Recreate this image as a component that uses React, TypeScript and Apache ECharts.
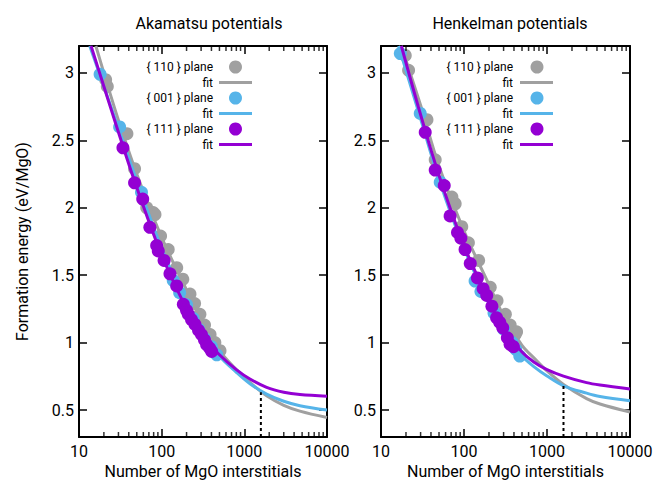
import React, { useEffect, useRef } from 'react';
import * as echarts from 'echarts';

// ---------- text ----------
const panelTitles = ['Akamatsu potentials', 'Henkelman potentials'];
const planeNames = ['{ 110 } plane', '{ 001 } plane', '{ 111 } plane'];
const fitLabel = 'fit';
const xAxisName = 'Number of MgO interstitials';
const yAxisName = 'Formation energy (eV/MgO)';

// ---------- colours ----------
const planeColors = ['#a0a0a0', '#56b4e9', '#9400d3'];

// ---------- axes ----------
const xMin = 10;
const xMax = 10000;
const yMin = 0.3;
const yMax = 3.2;
const yTickValues = [0.5, 1, 1.5, 2, 2.5, 3];
const xMinorTickValues = [20, 30, 40, 50, 60, 70, 80, 90, 200, 300, 400, 500, 600, 700, 800, 900, 2000, 3000, 4000, 5000, 6000, 7000, 8000, 9000];

// ---------- Akamatsu data ----------
const akaN110 = [21, 22, 38, 47, 66, 79, 83, 97, 120, 152, 180, 220, 250, 290, 330, 385, 440, 508];
const akaE110 = [2.95, 2.9, 2.55, 2.29, 2.0, 1.965, 1.95, 1.79, 1.69, 1.556, 1.47, 1.36, 1.29, 1.21, 1.13, 1.06, 1.0, 0.94];
const akaN001 = [18, 31, 57, 138, 165, 200, 240, 280, 330, 400, 464];
const akaE001 = [2.99, 2.6, 2.115, 1.46, 1.37, 1.28, 1.18, 1.1, 1.03, 0.97, 0.91];
const akaN111 = [34, 47, 59, 72, 87, 91, 107, 126, 152, 183, 200, 210, 230, 253, 280, 303, 330, 350, 380, 403];
const akaE111 = [2.445, 2.185, 2.065, 1.855, 1.72, 1.68, 1.61, 1.51, 1.42, 1.284, 1.24, 1.21, 1.17, 1.135, 1.09, 1.06, 1.02, 0.985, 0.96, 0.935];

const akaFitN110 = [16, 20, 30, 50, 100, 200, 300, 500, 800, 1170, 1860, 3000, 4700, 10000];
const akaFitE110 = [3.2, 3.0, 2.65, 2.25, 1.78, 1.39, 1.17, 0.94, 0.8, 0.705, 0.605, 0.535, 0.492, 0.445];
const akaFitN001 = [13.5, 20, 30, 50, 100, 200, 300, 500, 800, 1170, 1860, 3000, 4700, 10000];
const akaFitE001 = [3.2, 2.9, 2.59, 2.2, 1.7, 1.29, 1.09, 0.9, 0.78, 0.695, 0.618, 0.565, 0.532, 0.5];
const akaFitN111 = [14, 20, 30, 50, 100, 200, 300, 500, 800, 1170, 1860, 3000, 4700, 10000];
const akaFitE111 = [3.2, 2.9, 2.56, 2.15, 1.65, 1.25, 1.06, 0.91, 0.8, 0.73, 0.668, 0.632, 0.615, 0.603];
const akaMarkN = 1585;
const akaMarkE = 0.631;

// ---------- Henkelman data ----------
const henN110 = [19.6, 21.5, 35.8, 45, 71.5, 78.3, 94, 113, 150, 207, 250, 315, 360, 414, 430];
const henE110 = [3.13, 3.02, 2.653, 2.356, 2.08, 2.03, 1.86, 1.74, 1.61, 1.41, 1.31, 1.21, 1.13, 1.06, 1.08];
const henN001 = [17.1, 29.7, 51.7, 136, 160, 230, 300, 380, 420, 470];
const henE001 = [3.144, 2.7, 2.19, 1.457, 1.38, 1.22, 1.1, 1.0, 0.95, 0.9];
const henN111 = [34.1, 45, 57.8, 68, 83.5, 91.7, 103, 119, 145, 170, 188, 217, 247, 270, 293, 333, 359, 394];
const henE111 = [2.56, 2.28, 2.165, 1.94, 1.817, 1.775, 1.69, 1.586, 1.48, 1.4, 1.35, 1.27, 1.184, 1.15, 1.11, 1.036, 0.987, 0.97];

const henFitN110 = [17.5, 30, 50, 100, 200, 300, 500, 700, 1000, 1580, 3000, 4350, 10000];
const henFitE110 = [3.2, 2.76, 2.31, 1.83, 1.43, 1.2, 0.98, 0.885, 0.79, 0.69, 0.585, 0.545, 0.485];
const henFitN001 = [16.3, 30, 50, 100, 200, 300, 500, 700, 1000, 1580, 3000, 4350, 10000];
const henFitE001 = [3.2, 2.66, 2.21, 1.7, 1.29, 1.08, 0.9, 0.82, 0.752, 0.68, 0.625, 0.6, 0.569];
const henFitN111 = [17.6, 30, 50, 100, 200, 300, 500, 700, 1000, 1580, 3000, 4350, 10000];
const henFitE111 = [3.2, 2.69, 2.24, 1.72, 1.31, 1.1, 0.93, 0.855, 0.8, 0.752, 0.703, 0.685, 0.656];
const henMarkN = 1580;
const henMarkE = 0.68;

const FONT = 'Roboto';

const zip = (a: number[], b: number[]) => a.map((v, i) => [v, b[i]]);

type Panel = {
  points: [number[], number[]][];
  fits: [number[], number[]][];
  mark: [number, number];
};

const panels: Panel[] = [
  {
    points: [[akaN110, akaE110], [akaN001, akaE001], [akaN111, akaE111]],
    fits: [[akaFitN110, akaFitE110], [akaFitN001, akaFitE001], [akaFitN111, akaFitE111]],
    mark: [akaMarkN, akaMarkE],
  },
  {
    points: [[henN110, henE110], [henN001, henE001], [henN111, henE111]],
    fits: [[henFitN110, henFitE110], [henFitN001, henFitE001], [henFitN111, henFitE111]],
    mark: [henMarkN, henMarkE],
  },
];

// layout
const grids = [
  { left: 79, top: 46, width: 248, height: 391 },
  { left: 381, top: 46, width: 249, height: 391 },
];
const titleCenters = [204, 505];
const legendLayout = [
  { textX: 213, symX: 235.5, lineX1: 219, lineX2: 252 },
  { textX: 513, symX: 537, lineX1: 520, lineX2: 553 },
];
const legendRowY = [67, 82.5, 98, 113.5, 129, 144.5];

function buildOption() {
  const xAxes: any[] = [];
  const yAxes: any[] = [];
  const series: any[] = [];
  const graphics: any[] = [];

  panels.forEach((panel, p) => {
    const axisLine = { show: true, lineStyle: { color: '#000', width: 2 } };
    xAxes.push({
      type: 'log', logBase: 10, min: xMin, max: xMax, gridIndex: p, position: 'bottom',
      axisLine, axisTick: { inside: true, length: 8, lineStyle: { color: '#000', width: 1.5 } },
      axisLabel: { formatter: (v: number) => String(v), fontSize: 16, color: '#000', fontFamily: FONT, margin: 6 },
      splitLine: { show: false },
      name: xAxisName, nameLocation: 'middle', nameGap: 21,
      nameTextStyle: { fontSize: 16, color: '#000', fontFamily: FONT },
    });
    xAxes.push({
      type: 'log', logBase: 10, min: xMin, max: xMax, gridIndex: p, position: 'top',
      axisLine, axisTick: { inside: true, length: 8, lineStyle: { color: '#000', width: 1.5 } },
      axisLabel: { show: false }, splitLine: { show: false },
    });
    yAxes.push({
      type: 'value', min: yMin, max: yMax, gridIndex: p, position: 'left',
      axisLine, axisTick: { inside: true, length: 8, customValues: yTickValues, lineStyle: { color: '#000', width: 1.5 } },
      axisLabel: { customValues: yTickValues, fontSize: 16, color: '#000', fontFamily: FONT, margin: 5 },
      splitLine: { show: false },
      ...(p === 0
        ? { name: yAxisName, nameLocation: 'middle', nameGap: 49, nameTextStyle: { fontSize: 16, color: '#000', fontFamily: FONT } }
        : {}),
    });
    yAxes.push({
      type: 'value', min: yMin, max: yMax, gridIndex: p, position: 'right',
      axisLine, axisTick: { inside: true, length: 8, customValues: yTickValues, lineStyle: { color: '#000', width: 1.5 } },
      axisLabel: { show: false }, splitLine: { show: false },
    });

    const xi = p * 2;
    const yi = p * 2;
    for (let k = 0; k < 3; k++) {
      series.push({
        type: 'scatter', name: planeNames[k], xAxisIndex: xi, yAxisIndex: yi,
        data: zip(panel.points[k][0], panel.points[k][1]),
        symbol: 'circle', symbolSize: 13, itemStyle: { color: planeColors[k], opacity: 1 },
        z: 2 + k * 2,
      });
      series.push({
        type: 'line', name: fitLabel, xAxisIndex: xi, yAxisIndex: yi,
        data: zip(panel.fits[k][0], panel.fits[k][1]),
        smooth: 0.35, symbol: 'none', lineStyle: { color: planeColors[k], width: 3 },
        z: 3 + k * 2, clip: true,
      });
    }
    // dashed marker line
    series.push({
      type: 'line', xAxisIndex: xi, yAxisIndex: yi,
      data: [[panel.mark[0], yMin], [panel.mark[0], panel.mark[1]]],
      symbol: 'none', lineStyle: { color: '#000', width: 2, type: [3, 3] }, z: 9,
    });
    // minor x ticks (bottom and top)
    series.push({
      type: 'scatter', xAxisIndex: xi, yAxisIndex: yi, silent: true, clip: false,
      data: xMinorTickValues.map((v) => [v, yMin]),
      symbol: 'rect', symbolSize: [1.5, 5], symbolOffset: [0, -2.5],
      itemStyle: { color: '#000' }, z: 10,
    });
    series.push({
      type: 'scatter', xAxisIndex: xi, yAxisIndex: yi, silent: true, clip: false,
      data: xMinorTickValues.map((v) => [v, yMax]),
      symbol: 'rect', symbolSize: [1.5, 5], symbolOffset: [0, 2.5],
      itemStyle: { color: '#000' }, z: 10,
    });

    // legend
    const L = legendLayout[p];
    for (let k = 0; k < 3; k++) {
      const yPt = legendRowY[k * 2];
      const yFit = legendRowY[k * 2 + 1];
      graphics.push({
        type: 'text', x: L.textX, y: yPt,
        style: { text: planeNames[k], fontSize: 12, fontFamily: FONT, fill: '#000', align: 'right', verticalAlign: 'middle' },
      });
      graphics.push({
        type: 'circle', shape: { cx: L.symX, cy: yPt, r: 6.5 }, style: { fill: planeColors[k] },
      });
      graphics.push({
        type: 'text', x: L.textX, y: yFit,
        style: { text: fitLabel, fontSize: 12, fontFamily: FONT, fill: '#000', align: 'right', verticalAlign: 'middle' },
      });
      graphics.push({
        type: 'line', shape: { x1: L.lineX1, y1: yFit, x2: L.lineX2, y2: yFit },
        style: { stroke: planeColors[k], lineWidth: 3 },
      });
    }
  });

  return {
    animation: false,
    backgroundColor: '#fff',
    title: panelTitles.map((t, p) => ({
      text: t, left: titleCenters[p], top: 10, textAlign: 'center',
      textStyle: { fontSize: 16, fontWeight: 'normal', color: '#000', fontFamily: FONT },
    })),
    grid: grids.map((g) => ({ ...g, containLabel: false, outerBoundsMode: 'none' })),
    xAxis: xAxes,
    yAxis: yAxes,
    series,
    graphic: graphics,
  };
}

export default function App() {
  const ref = useRef<HTMLDivElement>(null);
  useEffect(() => {
    if (!ref.current) return;
    const chart = echarts.init(ref.current, undefined, { renderer: 'svg' });
    chart.setOption(buildOption() as any);
    return () => chart.dispose();
  }, []);
  return (
    <div
      ref={ref}
      style={{ position: 'fixed', left: 0, top: 0, width: 665, height: 485, background: '#fff' }}
    />
  );
}
